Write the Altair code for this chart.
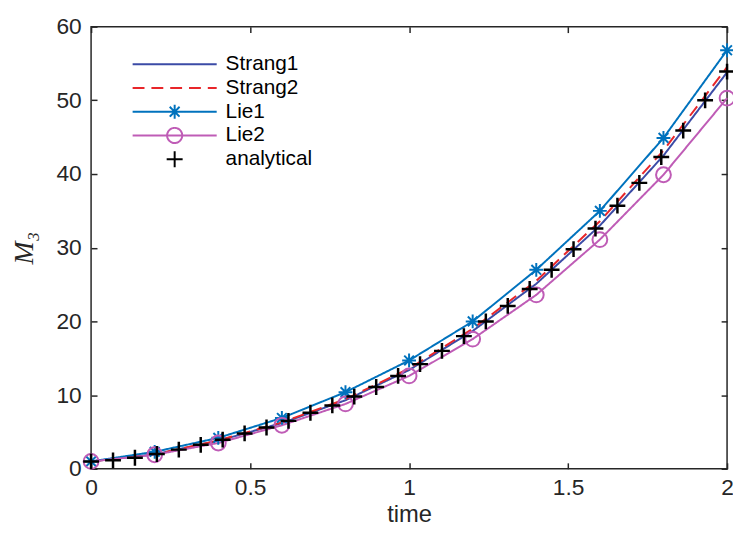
import altair as alt
import pandas as pd

# ---- data ----
marker_t = [0.0, 0.2, 0.4, 0.6, 0.8, 1.0, 1.2, 1.4, 1.6, 1.8, 2.0]
strang1 = [1.0, 1.95, 3.8, 6.2, 9.3, 13.4, 18.7, 25.1, 33.0, 42.5, 53.8]
strang2 = [1.0, 1.97, 3.85, 6.3, 9.45, 13.6, 19.0, 25.5, 33.6, 43.2, 54.5]
lie1 = [1.0, 2.3, 4.2, 6.9, 10.4, 14.7, 20.0, 27.0, 35.0, 44.9, 56.8]
lie2 = [1.0, 1.9, 3.5, 5.9, 8.8, 12.6, 17.6, 23.6, 31.1, 39.9, 50.3]

analytical_t = [0.0, 0.069, 0.1379, 0.2069, 0.2759, 0.3448, 0.4138, 0.4828, 0.5517, 0.6207,
                0.6897, 0.7586, 0.8276, 0.8966, 0.9655, 1.0345, 1.1034, 1.1724, 1.2414, 1.3103,
                1.3793, 1.4483, 1.5172, 1.5862, 1.6552, 1.7241, 1.7931, 1.8621, 1.931, 2.0]
analytical = [1.0, 1.15, 1.5, 2.0, 2.6, 3.25, 3.95, 4.8, 5.6, 6.5,
              7.6, 8.6, 9.8, 11.1, 12.6, 14.2, 16.0, 18.0, 20.0, 22.1,
              24.4, 27.0, 29.8, 32.6, 35.7, 38.8, 42.3, 45.9, 50.0, 53.9]

series_names = ["Strang1", "Strang2", "Lie1", "Lie2", "analytical"]
x_ticks = [0, 0.5, 1, 1.5, 2]
y_ticks = [0, 10, 20, 30, 40, 50, 60]

# ---- styles ----
colors = ["#3B4BA6", "#E8262A", "#0072BD", "#BF5CB6", "#000000"]
dashes = [[1, 0], [12, 7], [1, 0], [1, 0], [1, 0]]

LINE = "M-1,0L1,0"
leg_shapes = [
    LINE,
    LINE,
    LINE + "M0,-0.165L0,0.165M-0.165,0L0.165,0M-0.117,-0.117L0.117,0.117M-0.117,0.117L0.117,-0.117",
    LINE + "M-0.18,0A0.18,0.18,0,1,1,0.18,0A0.18,0.18,0,1,1,-0.18,0",
    "M-0.19,0L0.19,0M0,-0.19L0,0.19",
]
STAR = "M0,-1L0,1M-1,0L1,0M-0.7,-0.7L0.7,0.7M-0.7,0.7L0.7,-0.7"
PLUS = "M-1,0L1,0M0,-1L0,1"

W, H = 643, 447
AX = "#262626"
FONT = "Liberation Sans"

xs = alt.Scale(domain=[0, 2], nice=False, zero=False)
ys = alt.Scale(domain=[0, 60], nice=False, zero=False)
cs = alt.Scale(domain=series_names, range=colors)
ds = alt.Scale(domain=series_names, range=dashes)
ss = alt.Scale(domain=series_names, range=leg_shapes)

rows = []
for name, vals in zip(series_names[:4], [strang1, strang2, lie1, lie2]):
    for t, v in zip(marker_t, vals):
        rows.append({"t": t, "v": v, "series": name})
lines_df = pd.DataFrame(rows)
lie1_df = pd.DataFrame({"t": marker_t, "v": lie1})
lie2_df = pd.DataFrame({"t": marker_t, "v": lie2})
ana_df = pd.DataFrame({"t": analytical_t, "v": analytical})
leg_df = pd.DataFrame({"t": [0.0] * 5, "v": [strang1[0], strang2[0], lie1[0], lie2[0], analytical[0]],
                       "series": series_names})

x_main = alt.Axis(values=x_ticks, orient="bottom", ticks=False, domain=False, grid=False,
                  format="~g",
                  labelFont=FONT, labelFontSize=23, labelColor=AX, labelPadding=8,
                  title="time", titleFont=FONT, titleFontSize=24, titleFontWeight="normal",
                  titleColor=AX, titleY=53, titleBaseline="alphabetic", labelFlush=False)
y_main = alt.Axis(values=y_ticks, orient="left", ticks=False, domain=False, grid=False,
                  labelFont=FONT, labelFontSize=23, labelColor=AX, labelPadding=10,
                  title="M₃", titleFont="Liberation Serif", titleFontSize=28,
                  titleFontStyle="italic", titleFontWeight="normal", titleColor=AX,
                  titlePadding=18, labelFlush=False)

x_in_bottom = alt.Axis(values=x_ticks, orient="top", offset=-H, labels=False, domain=False,
                       grid=False, ticks=True, tickSize=6, tickWidth=1.5, tickColor=AX, title=None)
y_in_left = alt.Axis(values=y_ticks, orient="right", offset=-W, labels=False, domain=False,
                     grid=False, ticks=True, tickSize=6, tickWidth=1.5, tickColor=AX, title=None)
x_in_top = alt.Axis(values=x_ticks, orient="bottom", offset=-H, labels=False, domain=False,
                    grid=False, ticks=True, tickSize=6, tickWidth=1.5, tickColor=AX, title=None)
y_in_right = alt.Axis(values=y_ticks, orient="left", offset=-W, labels=False, domain=False,
                      grid=False, ticks=True, tickSize=6, tickWidth=1.5, tickColor=AX, title=None)

legend = alt.Legend(title=None, orient="none", legendX=41, legendY=26, symbolSize=7225,
                    symbolStrokeWidth=2, symbolOpacity=1, symbolFillColor="transparent",
                    labelFont=FONT, labelFontSize=21, labelColor="#000000", labelOffset=8,
                    clipHeight=24, rowPadding=0, padding=0, labelLimit=400)

lines = alt.Chart(lines_df).mark_line(strokeWidth=2).encode(
    x=alt.X("t:Q", scale=xs, axis=x_main),
    y=alt.Y("v:Q", scale=ys, axis=y_main),
    color=alt.Color("series:N", scale=cs, legend=legend),
    strokeDash=alt.StrokeDash("series:N", scale=ds, legend=legend),
    detail="series:N",
)

lie1_pts = alt.Chart(lie1_df).mark_point(shape=STAR, size=196, strokeWidth=2, filled=False,
                                         color=colors[2], opacity=1).encode(
    x=alt.X("t:Q", scale=xs, axis=x_in_bottom),
    y=alt.Y("v:Q", scale=ys, axis=y_in_left),
)
lie2_pts = alt.Chart(lie2_df).mark_point(shape="circle", size=225, strokeWidth=2, filled=False,
                                         color=colors[3], opacity=1).encode(
    x=alt.X("t:Q", scale=xs, axis=x_in_top),
    y=alt.Y("v:Q", scale=ys, axis=y_in_right),
)
ana_pts = alt.Chart(ana_df).mark_point(shape=PLUS, size=256, strokeWidth=2.5, filled=False,
                                       color="#000000", opacity=1).encode(
    x=alt.X("t:Q", scale=xs, axis=None),
    y=alt.Y("v:Q", scale=ys, axis=None),
)

leg_layer = alt.Chart(leg_df).mark_point(opacity=0, filled=False, size=7225).encode(
    x=alt.X("t:Q", scale=xs, axis=None),
    y=alt.Y("v:Q", scale=ys, axis=None),
    color=alt.Color("series:N", scale=cs, legend=legend),
    strokeDash=alt.StrokeDash("series:N", scale=ds, legend=legend),
    shape=alt.Shape("series:N", scale=ss, legend=legend),
)

chart = alt.layer(lines, lie1_pts, lie2_pts, ana_pts, leg_layer).resolve_axis(
    x="independent", y="independent"
).properties(
    width=W, height=H,
    autosize=alt.AutoSizeParams(type="none"),
    padding={"left": 84, "top": 16, "right": 6, "bottom": 55},
    background="white",
).configure_view(stroke=AX, strokeWidth=1.5)

chart.save("out.html", embed_options={"renderer": "svg", "actions": False})
